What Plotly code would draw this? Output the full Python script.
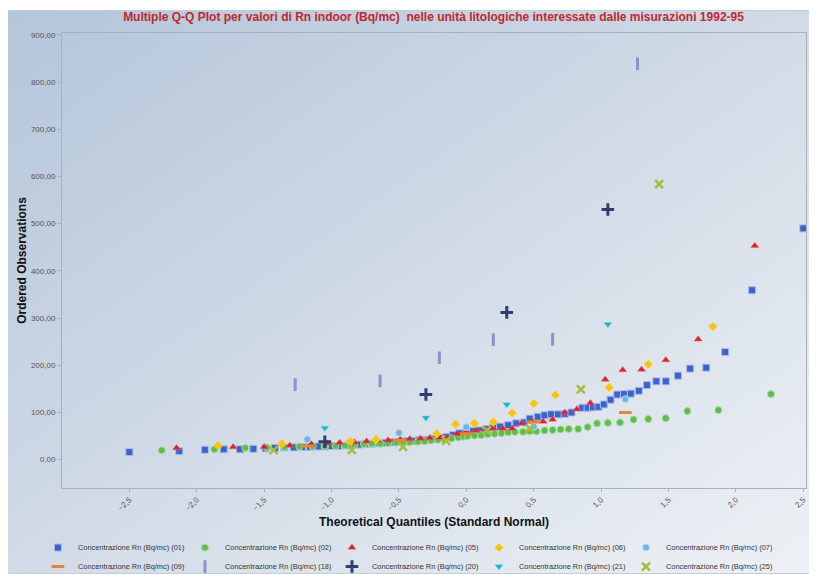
import base64
import plotly.graph_objects as go

# ---------------- data ----------------
x01 = [-2.50, -2.13, -1.94, -1.80, -1.68, -1.58, -1.49, -1.42, -1.35, -1.28, -1.22, -1.16, -1.10, -1.05,
       -1.00, -0.95, -0.90, -0.85, -0.80, -0.75, -0.70, -0.65, -0.60, -0.55, -0.50, -0.45, -0.40, -0.35,
       -0.30, -0.25, -0.20, -0.15, -0.10, -0.05, 0.00, 0.05, 0.10, 0.15, 0.20, 0.25, 0.31, 0.37, 0.43,
       0.47, 0.53, 0.58, 0.63, 0.68, 0.73, 0.78, 0.86, 0.90, 0.94, 0.98, 1.02, 1.07, 1.12, 1.17, 1.22,
       1.28, 1.34, 1.41, 1.48, 1.57, 1.66, 1.78, 1.92, 2.12, 2.50]
y01 = [16, 18, 21, 22, 22, 23, 24, 25, 26, 26, 27, 27, 28, 28,
       29, 29, 30, 31, 32, 33, 34, 35, 36, 37, 38, 39, 40, 41,
       42, 44, 46, 48, 52, 56, 59, 61, 62, 65, 68, 70, 73, 77, 79,
       87, 91, 94, 96, 96, 97, 100, 110, 110, 111, 112, 117, 127, 138, 139, 140,
       146, 158, 166, 166, 178, 193, 195, 228, 359, 490]

x02 = [-2.26, -1.87, -1.64, -1.48, -1.35, -1.24, -1.14, -1.05, -0.97, -0.90, -0.83, -0.76, -0.70, -0.64,
       -0.58, -0.52, -0.47, -0.42, -0.36, -0.31, -0.26, -0.21, -0.16, -0.11, -0.06, -0.02,
       0.01, 0.06, 0.11, 0.16, 0.21, 0.26, 0.31, 0.36, 0.42, 0.47, 0.52, 0.58, 0.64, 0.70, 0.76, 0.83,
       0.90, 0.97, 1.05, 1.14, 1.24, 1.35, 1.48, 1.64, 1.87, 2.26]
y02 = [20, 22, 25, 26, 27, 28, 28, 29, 29, 30, 31, 33, 34, 34,
       35, 36, 37, 37, 38, 39, 41, 42, 43, 45, 47, 49,
       50, 51, 52, 54, 55, 56, 58, 59, 59, 60, 60, 62, 63, 64, 65, 65,
       69, 77, 78, 79, 85, 86, 88, 103, 105, 139]

x05 = [-2.15, -1.73, -1.50, -1.31, -1.15, -1.03, -0.94, -0.83, -0.74, -0.66, -0.58, -0.49, -0.42, -0.34,
       -0.27, -0.20, -0.14, -0.07, 0.00, 0.07, 0.14, 0.20, 0.27, 0.34, 0.41, 0.49, 0.57, 0.64, 0.73,
       0.82, 0.92, 1.03, 1.16, 1.30, 1.48, 1.72, 2.14]
y05 = [25, 27, 27, 30, 33, 35, 36, 37, 39, 41, 41, 43, 44, 45,
       46, 47, 48, 55, 60, 62, 64, 66, 66, 66, 77, 81, 81, 85, 100,
       107, 120, 170, 190, 191, 211, 255, 453]

x06 = [-1.84, -1.37, -0.86, -0.67, -0.22, -0.08, 0.06, 0.20, 0.34, 0.50, 0.66, 1.06, 1.35, 1.83]
y06 = [30, 34, 39, 43, 55, 75, 77, 80, 99, 119, 137, 153, 202, 282]

x07 = [-1.18, -0.50, 0.00, 0.50, 1.18]
y07 = [43, 57, 69, 70, 128]

x09 = [-1.18, -0.50, 0.00, 0.50, 1.18]
y09 = [29, 41, 55, 80, 100]

x18 = [-1.27, -0.64, -0.20, 0.20, 0.64, 1.27]
y18 = [159, 167, 216, 254, 255, 839]

x20 = [-1.05, -0.30, 0.30, 1.05]
y20 = [38, 138, 312, 530]

x21 = [-1.05, -0.30, 0.30, 1.05]
y21 = [67, 89, 117, 287]

x25 = [-1.43, -0.85, -0.47, -0.15, 0.15, 0.47, 0.85, 1.43]
y25 = [20, 21, 27, 40, 62, 66, 149, 584]

series_codes = ["01", "02", "05", "06", "07", "09", "18", "20", "21", "25"]
x_ticks = [-2.5, -2.0, -1.5, -1.0, -0.5, 0.0, 0.5, 1.0, 1.5, 2.0, 2.5]
y_ticks = [0, 100, 200, 300, 400, 500, 600, 700, 800, 900]

# ---------------- styles ----------------
styles = {
    "01": dict(symbol="square", size=7, color="#3d62c8", line=dict(color="#a9bdf0", width=1)),
    "02": dict(symbol="circle", size=7, color="#5fbb4c", line=dict(color="#a9dc9a", width=1)),
    "05": dict(symbol="triangle-up", size=7, color="#d8232a", line=dict(color="#e86a6a", width=0.5)),
    "06": dict(symbol="diamond", size=7, color="#f4c419", line=dict(color="#f9dd7a", width=0.5)),
    "07": dict(symbol="circle", size=7, color="#71b4e4", line=dict(color="#c0ddf3", width=1)),
    "09": dict(symbol="line-ew", size=9, color="#e8842b", line=dict(color="#e8842b", width=3)),
    "18": dict(symbol="line-ns", size=9, color="#8a91cb", line=dict(color="#8a91cb", width=3)),
    "20": dict(symbol="cross-thin", size=9, color="#2e3f6f", line=dict(color="#2e3f6f", width=3)),
    "21": dict(symbol="triangle-down", size=7, color="#1cb3c4", line=dict(color="#7fd6df", width=0.5)),
    "25": dict(symbol="x-thin", size=8, color="#a5bc3c", line=dict(color="#a5bc3c", width=2.5)),
}

data = {
    "01": (x01, y01), "02": (x02, y02), "05": (x05, y05), "06": (x06, y06), "07": (x07, y07),
    "09": (x09, y09), "18": (x18, y18), "20": (x20, y20), "21": (x21, y21), "25": (x25, y25),
}

fig = go.Figure()
for code in series_codes:
    xs, ys = data[code]
    st = styles[code]
    fig.add_trace(go.Scatter(
        x=xs, y=ys, mode="markers",
        name=f"Concentrazione Rn (Bq/mc) ({code})",
        marker=dict(symbol=st["symbol"], size=st["size"], color=st["color"], line=st["line"]),
    ))

# The page body has an 8px default margin, so the figure is laid out 8px smaller
W, H = 809, 566
L, R, T, B = 54, 11, 25, 86
pw, ph = W - L - R, H - T - B

# ---------------- background gradient ----------------
svg = ("<svg xmlns='http://www.w3.org/2000/svg' width='812' height='564' preserveAspectRatio='none'>"
       "<defs><linearGradient id='g' x1='0' y1='0' x2='1' y2='1'>"
       "<stop offset='0' stop-color='#b4c5da'/><stop offset='0.55' stop-color='#d4dde8'/>"
       "<stop offset='1' stop-color='#eef1f5'/></linearGradient></defs>"
       "<rect x='0.5' y='0.5' width='811' height='563' fill='url(#g)' stroke='#c3ccd8'/></svg>")
src = "data:image/svg+xml;base64," + base64.b64encode(svg.encode()).decode()
fig.add_layout_image(dict(
    source=src, xref="paper", yref="paper",
    x=(-3 - L) / pw, y=1 + (T - 2) / ph,
    sizex=812 / pw, sizey=564 / ph,
    xanchor="left", yanchor="top", sizing="stretch", layer="below",
))

tick_font = dict(family="Liberation Sans, Arial, sans-serif", size=8, color="#555555")
title_font = dict(family="Liberation Sans, Arial, sans-serif", size=12, color="#111111")

fig.update_layout(
    width=W, height=H,
    margin=dict(l=L, r=R, t=T, b=B, autoexpand=False),
    paper_bgcolor="white",
    plot_bgcolor="rgba(0,0,0,0)",
    separators=",.",
    title=dict(
        text="<b>Multiple Q-Q Plot per valori di Rn indoor (Bq/mc)  nelle unità litologiche interessate dalle misurazioni 1992-95</b>",
        font=dict(family="Liberation Sans Narrow, Arial Narrow, Liberation Sans, sans-serif", size=12, color="#c0282d"),
        x=0.526, xanchor="center", y=0.984, yanchor="middle",
    ),
    xaxis=dict(
        range=[-3.0, 2.52], tickvals=x_ticks, tickformat=".1f", tickangle=-45, automargin=False,
        showgrid=False, zeroline=False, showline=True, linecolor="#a7b0be", linewidth=1, mirror=True,
        ticks="outside", ticklen=3, tickcolor="#a7b0be", tickfont=tick_font,
        title=dict(text="<b>Theoretical Quantiles (Standard Normal)</b>", font=title_font, standoff=5),
    ),
    yaxis=dict(
        range=[-60, 904], tickvals=y_ticks, tickformat=".2f", automargin=False,
        showgrid=False, zeroline=False, showline=True, linecolor="#a7b0be", linewidth=1, mirror=True,
        ticks="outside", ticklen=4, tickcolor="#a7b0be", tickfont=tick_font,
        title=dict(text="<b>Ordered Observations</b>", font=title_font, standoff=1),
    ),
    legend=dict(
        orientation="h", x=-0.0323, xanchor="left", y=-0.099, yanchor="top",
        entrywidth=102, entrywidthmode="pixels",
        font=dict(family="Liberation Sans, Arial, sans-serif", size=7.4, color="#333333"),
        bgcolor="rgba(0,0,0,0)", itemwidth=30, tracegroupgap=0,
    ),
    showlegend=True,
)

fig.write_html("out.html")
